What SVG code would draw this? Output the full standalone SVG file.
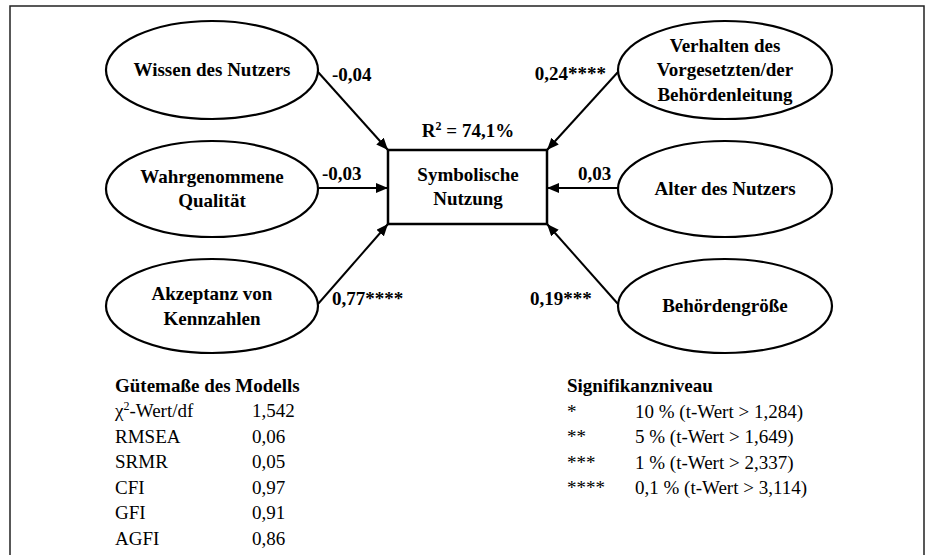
<svg xmlns="http://www.w3.org/2000/svg" width="930" height="555" viewBox="0 0 930 555">
<style>
.bg{fill:#fff}
.frame{fill:none;stroke:#222;stroke-width:1.5}
.ell{fill:#fff;stroke:#000;stroke-width:2.2}
.box{fill:#fff;stroke:#000;stroke-width:2.5}
.b{font-family:"Liberation Serif","Times New Roman",serif;font-weight:bold;font-size:19px;fill:#000}
.c{text-anchor:middle}
.r{font-family:"Liberation Serif","Times New Roman",serif;font-size:19px;fill:#000}
.edge{stroke:#000;stroke-width:2;fill:none;marker-end:url(#ah)}
</style>
<defs>
<marker id="ah" markerUnits="userSpaceOnUse" markerWidth="12" markerHeight="10" refX="12" refY="5" orient="auto">
<path d="M0,0 L12,5 L0,10 z" fill="#000"/>
</marker>
</defs>
<rect class="bg" x="0" y="0" width="930" height="555"/>
<path class="frame" d="M10,560 L10,6 L924,6 L924,560"/>

<g id="connectors">
<line class="edge" x1="318" y1="72" x2="388" y2="150"/>
<line class="edge" x1="319" y1="188" x2="388" y2="188"/>
<line class="edge" x1="318" y1="304" x2="388" y2="224"/>
<line class="edge" x1="618" y1="72" x2="547" y2="150"/>
<line class="edge" x1="618" y1="188" x2="547" y2="188"/>
<line class="edge" x1="618" y1="304" x2="547" y2="224"/>
<text class="b" x="332" y="81">-0,04</text>
<text class="b" x="322" y="180">-0,03</text>
<text class="b" x="332" y="305">0,77****</text>
<text class="b" x="606" y="80" text-anchor="end">0,24****</text>
<text class="b" x="578" y="180">0,03</text>
<text class="b" x="530" y="305">0,19***</text>
</g>

<g id="wissen">
<ellipse class="ell" cx="212" cy="70" rx="106" ry="49"/>
<text class="b c" x="212" y="76">Wissen des Nutzers</text>
</g>
<g id="qualitaet">
<ellipse class="ell" cx="212" cy="189" rx="106" ry="48"/>
<text class="b c" x="212" y="183">Wahrgenommene</text>
<text class="b c" x="212" y="207">Qualität</text>
</g>
<g id="akzeptanz">
<ellipse class="ell" cx="212" cy="306" rx="106" ry="47"/>
<text class="b c" x="212" y="300">Akzeptanz von</text>
<text class="b c" x="212" y="325">Kennzahlen</text>
</g>
<g id="verhalten">
<ellipse class="ell" cx="725" cy="70" rx="107" ry="49"/>
<text class="b c" x="725" y="52">Verhalten des</text>
<text class="b c" x="725" y="76">Vorgesetzten/der</text>
<text class="b c" x="725" y="101">Behördenleitung</text>
</g>
<g id="alter">
<ellipse class="ell" cx="725" cy="189" rx="107" ry="48"/>
<text class="b c" x="725" y="195">Alter des Nutzers</text>
</g>
<g id="groesse">
<ellipse class="ell" cx="725" cy="306" rx="107" ry="47"/>
<text class="b c" x="725" y="312">Behördengröße</text>
</g>
<g id="nutzung">
<rect class="box" x="388" y="150" width="159" height="74"/>
<text class="b c" x="468" y="181">Symbolische</text>
<text class="b c" x="468" y="205">Nutzung</text>
<text class="b c" x="468" y="137">R<tspan font-size="12" dy="-7">2</tspan><tspan dy="7"> = 74,1%</tspan></text>
</g>

<g id="guetemasse">
<text class="b" x="115" y="392">Gütemaße des Modells</text>
<text class="r" x="115" y="417">χ<tspan font-size="12" dy="-7">2</tspan><tspan dy="7">-Wert/df</tspan></text>
<text class="r" x="252" y="417">1,542</text>
<text class="r" x="115" y="443">RMSEA</text>
<text class="r" x="252" y="443">0,06</text>
<text class="r" x="115" y="468">SRMR</text>
<text class="r" x="252" y="468">0,05</text>
<text class="r" x="115" y="494">CFI</text>
<text class="r" x="252" y="494">0,97</text>
<text class="r" x="115" y="519">GFI</text>
<text class="r" x="252" y="519">0,91</text>
<text class="r" x="115" y="545">AGFI</text>
<text class="r" x="252" y="545">0,86</text>
</g>

<g id="signifikanz">
<text class="b" x="567" y="392">Signifikanzniveau</text>
<text class="r" x="567" y="418">*</text>
<text class="r" x="635" y="418">10 % (t-Wert &gt; 1,284)</text>
<text class="r" x="567" y="443">**</text>
<text class="r" x="635" y="443">5 % (t-Wert &gt; 1,649)</text>
<text class="r" x="567" y="469">***</text>
<text class="r" x="635" y="469">1 % (t-Wert &gt; 2,337)</text>
<text class="r" x="567" y="494">****</text>
<text class="r" x="635" y="494">0,1 % (t-Wert &gt; 3,114)</text>
</g>
</svg>
